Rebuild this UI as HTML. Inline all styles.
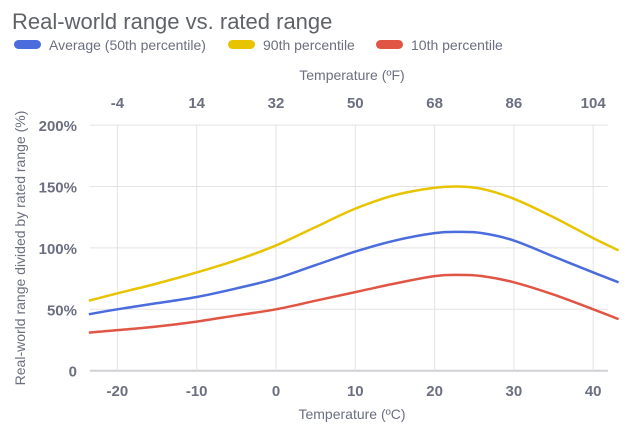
<!DOCTYPE html>
<html><head><meta charset="utf-8"><style>
body{margin:0;background:#fff;width:644px;height:442px;overflow:hidden;font-family:"Liberation Sans",sans-serif}
</style></head><body>
<svg width="644" height="442" xmlns="http://www.w3.org/2000/svg">
<text x="12" y="29" font-size="22" fill="#5f6368">Real-world range vs. rated range</text>
<g id="legend"></g>
<text x="352" y="80" font-size="14" fill="#6b6f80" text-anchor="middle">Temperature (ºF)</text>
<text x="352" y="419" font-size="14" fill="#6b6f80" text-anchor="middle">Temperature (ºC)</text>
<text transform="translate(25,248) rotate(-90)" font-size="14" fill="#6b6f80" text-anchor="middle">Real-world range divided by rated range (%)</text>
<g id="grid"></g><g id="series"></g>
</svg>
<script>
const xTicksC=[-20,-10,0,10,20,30,40];
const xTicksF=["-4","14","32","50","68","86","104"];
const yTicks=[0,50,100,150,200];
const yTickLabels=["0","50%","100%","150%","200%"];
const temps=[-23.6,-20,-15,-10,-5,0,5,10,15,20,23,26,30,35,40,43.2];
const avg=[46,50,55,60,67,75,86,97,106,112,113,112,106,93,80,72];
const p90=[57,63,71,80,90,102,117,132,143,149,150,148,140,125,108,98];
const p10=[31,33,36,40,45,50,57,64,71,77,78,77,72,62,50,42];
const seriesNames=["Average (50th percentile)","90th percentile","10th percentile"];
const colors=["#4a6cdc","#e8c300","#e05543"];
const NS="http://www.w3.org/2000/svg";
const X=c=>276+c*7.93, Y=v=>370.7-v*1.228;
const L=90,R=608;
function mk(t,a,p){const e=document.createElementNS(NS,t);for(const k in a)e.setAttribute(k,a[k]);p.appendChild(e);return e;}
const g=document.getElementById('grid');
const tf='Liberation Sans Narrow, Liberation Sans, sans-serif';
yTicks.forEach((v,i)=>{
 const l=mk('line',{x1:L,x2:R,y1:Y(v),y2:Y(v),stroke:v==0?'#d0d0d4':'#e3e3e6','stroke-width':v==0?2:1},g);
 
 
 const t=mk('text',{x:77,y:Y(v)+6,'text-anchor':'end','font-size':15,'font-weight':'bold',fill:'#6b6f80','font-family':tf},g);
 t.textContent=yTickLabels[i];
 
 
});
xTicksC.forEach((c,i)=>{
 const l=mk('line',{x1:X(c),x2:X(c),y1:Y(200),y2:Y(0),stroke:'#e3e3e6'},g);
 
 
 const t=mk('text',{x:X(c),y:396,'text-anchor':'middle','font-size':15,'font-weight':'bold',fill:'#6b6f80','font-family':tf},g);
 t.textContent=c;
 
 
 const f=mk('text',{x:X(c),y:108,'text-anchor':'middle','font-size':15,'font-weight':'bold',fill:'#6b6f80','font-family':tf},g);
 f.textContent=xTicksF[i];
 
 
});
function path(vals){
 const p=temps.map((t,i)=>[X(t),Y(vals[i])]);
 let d='M'+p[0][0]+','+p[0][1];
 for(let i=0;i<p.length-1;i++){
  const p0=p[i-1]||p[i],p1=p[i],p2=p[i+1],p3=p[i+2]||p2;
  d+=' C'+(p1[0]+(p2[0]-p0[0])/6)+','+(p1[1]+(p2[1]-p0[1])/6)+' '+(p2[0]-(p3[0]-p1[0])/6)+','+(p2[1]-(p3[1]-p1[1])/6)+' '+p2[0]+','+p2[1];
 }
 return d;
}
const s=document.getElementById('series');
[[avg,0],[p90,1],[p10,2]].forEach(([v,i])=>{
 const e=mk('path',{d:path(v),fill:'none',stroke:colors[i],'stroke-width':2.5},s);
 
 
});
const lg=document.getElementById('legend');
const lx=[14,228,376];
seriesNames.forEach((n,i)=>{
 const r=mk('rect',{x:lx[i],y:40,width:27,height:9,rx:4.5,fill:colors[i]},lg);
 
 
 const t=mk('text',{x:lx[i]+35,y:50,'font-size':14,fill:'#6b6f80'},lg);
 t.textContent=n;
 
 
});
</script>
</body></html>
